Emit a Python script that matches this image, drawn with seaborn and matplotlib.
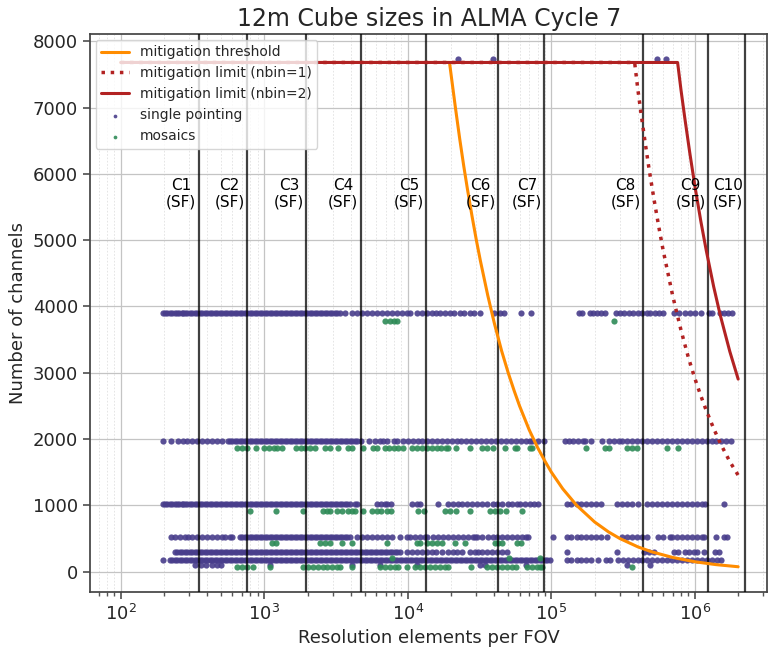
import matplotlib
matplotlib.use("Agg")
import matplotlib.pyplot as plt
import seaborn as sns
import pandas as pd
import numpy as np

# ---------------- data ----------------
# ALMA configuration boundaries (resolution elements per FOV)
config_edges = [349, 754, 1963, 4690, 13450, 42370, 89300, 433400, 1.23e6, 2.24e6]
config_labels = ["C1\n(SF)", "C2\n(SF)", "C3\n(SF)", "C4\n(SF)", "C5\n(SF)",
                 "C6\n(SF)", "C7\n(SF)", "C8\n(SF)", "C9\n(SF)", "C10\n(SF)"]

# mitigation curves
thr_x = [100, 19500, 20500, 21500, 23000, 24500, 26000, 28000, 30000, 32000,
         36000, 40000, 45000, 50000, 55000, 60000, 70000, 80000, 90000, 100000,
         120000, 150000, 200000, 250000, 300000, 400000, 500000, 700000, 1e6,
         1.4e6, 2e6]
thr_y = [7680, 7680, 7320, 6980, 6520, 6120, 5770, 5360, 5000, 4690,
         4170, 3750, 3330, 3000, 2730, 2500, 2140, 1875, 1670, 1500,
         1250, 1000, 750, 600, 500, 375, 300, 215, 150, 107, 75]
lim1_x = [100, 380000, 400000, 420000, 450000, 480000, 520000, 560000, 600000,
          700000, 800000, 900000, 1e6, 1.1e6, 1.2e6, 1.35e6, 1.5e6, 1.75e6, 2e6]
lim1_y = [7680, 7680, 7275, 6930, 6470, 6060, 5600, 5200, 4850,
          4160, 3640, 3230, 2910, 2650, 2430, 2160, 1940, 1660, 1455]
lim2_x = [100, 757000, 800000, 850000, 920000, 1e6, 1.1e6, 1.2e6, 1.35e6,
          1.5e6, 1.75e6, 2e6]
lim2_y = [7680, 7680, 7260, 6840, 6320, 5810, 5280, 4840, 4300, 3870, 3320, 2905]

# single pointing cubes: rows of channel number with x positions
sp_top_y = 7730
sp_top_x = [22400, 39200, 547000, 625000]

sp_a_y = 3900
sp_a_x = [196, 210, 228, 246, 265, 280, 302, 328, 355, 385, 417, 451, 489, 530,
          574, 622, 674, 730, 791, 857, 929, 1010, 1090, 1180, 1280, 1390, 1500,
          1630, 1760, 1910, 2070, 2240, 2430, 2630, 2850, 3090, 3350, 3630,
          4100, 4400, 4800, 5200, 5600, 6100, 6600, 7100, 7700, 8400, 9100, 9800,
          10300, 11500, 12500, 13600, 14700, 15600, 16800, 18000, 19500, 21000,
          22900, 24800, 26900, 29000, 32000, 40000, 44000, 47000, 61000, 72000,
          155000, 163000, 185000, 195000, 207000, 220000, 235000, 280000, 300000,
          322000, 345000, 370000, 400000, 430000, 460000, 490000, 530000, 560000,
          600000, 720000, 780000, 850000, 930000, 1.0e6, 1.1e6, 1.25e6, 1.32e6,
          1.5e6, 1.6e6, 1.7e6, 1.8e6]
sp_a_x_dense = [203, 219, 237, 255, 272, 291, 315, 341, 370, 401, 434, 470, 509,
                552, 598, 648, 702, 760, 824, 893, 968, 1050, 1135, 1230, 1335,
                1445, 1565, 1695, 1835, 1990, 2155, 2335, 2530, 2740, 2970, 3220]

sp_b_y = 1975
sp_b_x = [196, 225, 250, 270, 290, 315, 340, 370, 400, 430, 470, 510, 560, 574,
          622, 674, 730, 791, 857, 929, 1010, 1090, 1180, 1280, 1390, 1500, 1630,
          1760, 1910, 2070, 2240, 2430, 2630, 2850, 3090, 3350, 3630, 3930, 4260,
          4700, 5400, 5900, 6400, 6700, 7200, 8000, 8400, 9300, 10000, 10800,
          11700, 12600, 13600, 14700, 16000, 17300, 18800, 20300, 22000, 23500,
          25500, 27600, 29900, 32400, 35000, 38000, 41000, 44500, 48000, 52000,
          56500, 61000, 66000, 70500, 73000, 80000, 89000, 124000, 132000, 142000,
          152000, 165000, 172000, 190000, 225000, 250000, 275000, 298000, 310000,
          335000, 365000, 395000, 430000, 465000, 500000, 545000, 590000, 640000,
          690000, 750000, 810000, 880000, 950000, 1.03e6, 1.12e6, 1.21e6, 1.31e6,
          1.41e6, 1.52e6, 1.65e6, 1.78e6]
sp_b_x_dense = [598, 648, 702, 760, 824, 893, 968, 1050, 1135, 1230, 1335, 1445,
                1565, 1695, 1835, 1990, 2155, 2335, 2530, 2740, 2970, 3220, 3480,
                3780, 4090, 4440]

sp_c_y = 1020
sp_c_x = [196, 210, 228, 246, 265, 280, 302, 328, 355, 385, 417, 451, 489, 530,
          574, 622, 674, 730, 791, 857, 929, 1010, 1090, 1180, 1280, 1390, 1500,
          1630, 1760, 1910, 2070, 2240, 2430, 2630, 2850, 3090, 3350, 3630, 3930,
          4260, 4450, 6100, 6500, 6900, 7200, 7600, 10700, 11600, 12100, 16100,
          19000, 20500, 22200, 24000, 26000, 27800, 30200, 32700, 35500, 39000,
          42000, 45500, 49500, 53500, 58000, 60000, 65000, 70500, 76000, 80000,
          128000, 138000, 150000, 162000, 175000, 190000, 206000, 222000, 285000,
          310000, 335000, 365000, 400000, 460000, 500000, 540000, 590000, 640000,
          690000, 750000, 810000, 880000, 950000, 1.03e6, 1.12e6, 1.18e6, 1.6e6]
sp_c_x_dense = [203, 219, 237, 255, 272, 291, 315, 341, 370, 401, 434, 470, 509,
                552, 598, 648, 702, 760, 824, 893, 968, 1050, 1135, 1230, 1335,
                1445, 1565, 1695, 1835, 1990, 2155, 2335, 2530, 2740, 2970, 3220,
                3480, 3780]

sp_d_y = 530
sp_d_x = [225, 240, 260, 280, 292, 315, 340, 370, 400, 430, 470, 510, 530, 574,
          600, 674, 730, 791, 857, 929, 1010, 1090, 1180, 1280, 1390, 1500, 1630,
          1760, 1910, 2070, 2240, 2430, 2630, 2850, 3090, 3350, 3630, 3930, 4400,
          4800, 5200, 5600, 6100, 6600, 7200, 7700, 8770, 9800, 10300, 11200,
          12100, 13100, 13600, 15000, 16300, 17600, 19000, 20600, 22300, 24200,
          26200, 28400, 29200, 30500, 33000, 36000, 39000, 41500, 45000, 49000,
          53000, 57500, 62000, 67000, 69000, 102000, 128000, 138000, 150000,
          162000, 175000, 190000, 206000, 222000, 245000, 310000, 335000, 365000,
          395000, 425000, 465000, 550000, 600000, 665000, 690000, 750000, 810000,
          880000, 950000, 1.03e6, 1.12e6, 1.16e6, 1.41e6, 1.6e6, 1.68e6]
sp_d_x_dense = [702, 760, 824, 893, 968, 1050, 1135, 1230, 1335, 1445, 1565,
                1695, 1835, 1990, 2155, 2335, 2530, 2740, 2970, 3220, 3480, 3780]

sp_e_y = 293
sp_e_x = [238, 258, 279, 302, 328, 355, 385, 417, 451, 489, 530, 574, 622, 674,
          730, 791, 857, 929, 1010, 1090, 1180, 1280, 1390, 1500, 1630, 1760,
          1910, 2070, 2240, 2430, 2630, 2850, 3090, 3350, 3630, 3930, 4260, 4620,
          5000, 5420, 5870, 6360, 6900, 7470, 8090, 8770, 9800, 10600, 11500,
          12500, 13500, 14700, 15800, 17200, 19000, 20500, 22000, 23800, 26900,
          29200, 30800, 33000, 35700, 38700, 42000, 45500, 49200, 128000, 285000,
          445000, 480000, 520000, 720000, 760000, 846000, 910000, 990000, 1.04e6,
          1.16e6, 1.37e6, 1.48e6]
sp_e_x_dense = [248, 268, 290, 315, 341, 370, 401, 434, 470, 509, 552, 598, 648,
                702, 760, 824, 893, 968, 1050, 1135, 1230, 1335, 1445, 1565, 1695,
                1835, 1990, 2155, 2335, 2530, 2740, 2970, 3220, 3480, 3780, 4090,
                4440, 4810, 5210, 5640, 6110, 6620, 7180, 7780, 8430]

sp_f_y = 176
sp_f_x = [196, 219, 238, 258, 279, 302, 328, 355, 385, 417, 451, 489, 530, 574,
          622, 674, 730, 791, 857, 929, 1006, 1090, 1181, 1280, 1387, 1503, 1628,
          1764, 1911, 2071, 2244, 2432, 2634, 2854, 3093, 3351, 3631, 3934, 4262,
          4618, 5003, 5421, 5873, 6364, 6895, 7470, 8094, 8770, 9500, 10290,
          11150, 12080, 13090, 14180, 15370, 16650, 18040, 19550, 21180, 22950,
          24860, 26940, 29190, 31620, 34260, 37120, 40220, 43580, 47220, 51160,
          55430, 60060, 65070, 70500, 76390, 82770, 89680, 97160, 128000, 138000,
          150000, 162000, 175000, 190000, 210000, 240000, 254000, 290000, 315000,
          340000, 370000, 400000, 430000, 465000, 505000, 545000, 590000, 640000,
          690000, 750000, 810000, 880000, 950000, 1.03e6, 1.12e6, 1.21e6, 1.31e6,
          1.42e6, 1.53e6]
sp_f_x_dense = [228, 248, 268, 290, 315, 341, 370, 401, 434, 470, 509, 552, 598,
                648, 702, 760, 824, 893, 968, 1050, 1135, 1230, 1335, 1445, 1565,
                1695, 1835, 1990, 2155, 2335, 2530, 2740, 2970, 3220, 3480, 3780,
                4090, 4440, 4810, 5210, 5640, 6110, 6620, 7180, 7780, 8430, 9130,
                9890, 10720, 11610, 12580, 13630, 14770, 16000, 17330, 18780,
                20350, 22050, 23880, 25880, 28040, 30380, 32910, 35660, 38640,
                41860, 45360, 49150, 53250, 57700, 62510, 67730, 73380, 79500,
                86140, 93330]

sp_g_y = 100
sp_g_x = [330, 360, 390, 430, 470, 500, 1090, 4100, 6360, 11500, 31600, 34500,
          67000, 336000, 483000]

# mosaics
mo_a_y = 3785
mo_a_x = [6900, 7500, 8000, 8400, 275000]

mo_b_y = 1861
mo_b_x = [650, 700, 760, 880, 1000, 1080, 1170, 1230, 1330, 1660, 1800, 1910,
          2070, 2240, 2630, 2850, 3250, 3800, 4100, 4900, 5700, 6100, 6900, 7400,
          8000, 8600, 9300, 10700, 11600, 12600, 13600, 14700, 15900, 17100,
          18300, 19000, 21800, 26900, 33000, 35700, 39000, 47200, 55400, 57800,
          70500, 73500, 174000, 235000, 252000, 336000, 365000, 395000, 636000,
          760000]

mo_c_y = 920
mo_c_x = [791, 1200, 1850, 2550, 2750, 2850, 3200, 3450, 3800, 4050, 4250, 4900,
          5600, 6050, 6550, 7100, 7650, 11800, 13000, 18000, 19500, 21600, 26900,
          37100, 40500, 44000, 48500, 62000]

mo_d_y = 437
mo_d_x = [1140, 1210, 2430, 2630, 2850, 3450, 4100, 7200, 11500, 12100, 13700,
          14800, 16000, 17300, 21200, 24900, 40200, 42700, 45000, 57800, 61000]

mo_e_y = 205
mo_e_x = [7700, 51000, 83000]

mo_g_y = 70
mo_g_x = [650, 700, 760, 830, 1090, 1850, 2000, 2170, 2350, 2550, 2750, 2950,
          3200, 3350, 4100, 6360, 6900, 7470, 8100, 8500, 9900, 11150, 12080,
          13090, 14180, 15370, 16650, 18000, 19000, 27600, 35700, 38700, 42000,
          45500, 49200, 53300, 56700, 68000, 73500, 79000, 82800, 86000, 365000]

# ---------------- build tables ----------------
def rows(pairs):
    xs, ys = [], []
    for yv, xl in pairs:
        xs += list(xl)
        ys += [yv] * len(xl)
    return pd.DataFrame({"res": xs, "nchan": ys})

df_sp = rows([(sp_top_y, sp_top_x),
              (sp_a_y, sp_a_x), (sp_a_y, sp_a_x_dense),
              (sp_b_y, sp_b_x), (sp_b_y, sp_b_x_dense),
              (sp_c_y, sp_c_x), (sp_c_y, sp_c_x_dense),
              (sp_d_y, sp_d_x), (sp_d_y, sp_d_x_dense),
              (sp_e_y, sp_e_x), (sp_e_y, sp_e_x_dense),
              (sp_f_y, sp_f_x), (sp_f_y, sp_f_x_dense),
              (sp_g_y, sp_g_x)])
df_mo = rows([(mo_a_y, mo_a_x), (mo_b_y, mo_b_x), (mo_c_y, mo_c_x),
              (mo_d_y, mo_d_x), (mo_e_y, mo_e_x), (mo_g_y, mo_g_x)])

# ---------------- plot ----------------
sns.set_theme(style="ticks")
plt.rcParams["font.family"] = ["DejaVu Sans"]

fig = plt.figure(figsize=(7.69, 6.47), dpi=100)
ax = fig.add_axes([0.117, 0.085, 0.881, 0.862])

ax.set_xscale("log")
ax.set_xlim(61, 3.2e6)
ax.set_ylim(-306, 8105)

ax.grid(True, which="major", color="#c4c4c4", lw=0.9, zorder=0)
ax.grid(True, which="minor", axis="x", color="#e0e0e0", lw=0.6, ls=(0, (2, 2)), zorder=0)

sns.lineplot(x=thr_x, y=thr_y, ax=ax, color="darkorange", lw=2.2, sort=False,
             estimator=None, label="mitigation threshold", zorder=4)
sns.lineplot(x=lim1_x, y=lim1_y, ax=ax, color="firebrick", lw=2.5, ls=":",
             sort=False, estimator=None, label="mitigation limit (nbin=1)", zorder=4)
sns.lineplot(x=lim2_x, y=lim2_y, ax=ax, color="firebrick", lw=2.2, sort=False,
             estimator=None, label="mitigation limit (nbin=2)", zorder=4)

sns.scatterplot(data=df_sp, x="res", y="nchan", ax=ax, color="darkslateblue",
                s=20, linewidth=0, alpha=0.9, label="single pointing", zorder=2)
sns.scatterplot(data=df_mo, x="res", y="nchan", ax=ax, color="seagreen",
                s=20, linewidth=0, alpha=0.9, label="mosaics", zorder=2.5)

for xe, lab in zip(config_edges, config_labels):
    ax.axvline(xe, color="black", lw=1.6, alpha=0.75, zorder=3)
    ax.text(xe * 0.965, 5700, lab, ha="right", va="center", multialignment="center",
            fontsize=11, color="black", zorder=5)

ax.set_yticks(range(0, 8001, 1000))
ax.tick_params(axis="both", which="major", labelsize=13, length=5, color="#555555")
ax.tick_params(axis="x", which="minor", length=3, color="#555555")
for sp in ax.spines.values():
    sp.set_color("#444444")

ax.set_xlabel("Resolution elements per FOV", fontsize=13)
ax.set_ylabel("Number of channels", fontsize=13)
ax.set_title("12m Cube sizes in ALMA Cycle 7", fontsize=17)

leg = ax.legend(loc="upper left", fontsize=10, framealpha=0.8, markerscale=0.6,
                borderaxespad=0.4)
leg.set_zorder(10)

fig.savefig("out.png", dpi=100)
